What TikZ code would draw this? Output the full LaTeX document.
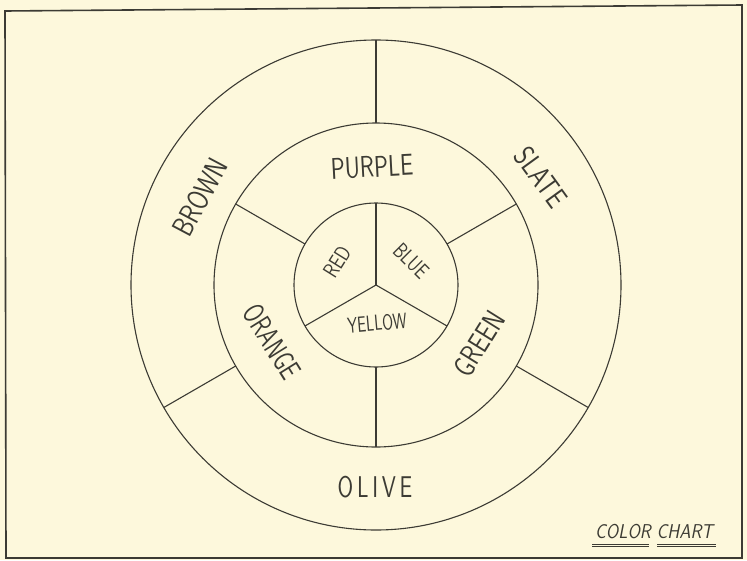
\documentclass[tikz,border=0pt]{standalone}
\usepackage{fontspec}
\definecolor{paper}{HTML}{FDF8DC}
\definecolor{ink}{HTML}{3C3B34}
\tikzset{
  ring/.style={circle, draw=ink, line width=1.1pt, minimum size=#1, inner sep=0pt, outer sep=0pt},
  spoke/.style={draw=ink, line width=1.1pt},
  biglabel/.style={text=ink, inner sep=0pt, font=\sffamily\fontsize{30}{32}\selectfont},
  smalllabel/.style={text=ink, inner sep=0pt, font=\sffamily\fontsize{22}{24}\selectfont},
}
\begin{document}
\begin{tikzpicture}[x=1pt,y=-1pt]
\useasboundingbox (0,0) rectangle (747,560);
\fill[paper] (0,0) rectangle (747,560);
% frame
\draw[ink, line width=1.6pt] (5,11) -- (742,5) -- (742,558) -- (6,558) -- cycle;

\coordinate (c) at (376,285);
\node[ring=490pt] (outer) at (c) {};
\node[ring=324pt] (middle) at (c) {};
\node[ring=164pt] (inner) at (c) {};

% inner spokes
\path[spoke] (c) -- (inner.90);
\path[spoke] (c) -- (inner.210);
\path[spoke] (c) -- (inner.330);
% middle spokes
\path[spoke] (inner.150) -- (middle.150);
\path[spoke] (inner.30) -- (middle.30);
\path[spoke] (inner.270) -- (middle.270);
% outer spokes
\path[spoke] (middle.90) -- (outer.90);
\path[spoke] (middle.210) -- (outer.210);
\path[spoke] (middle.330) -- (outer.330);

% outer ring labels
\node[biglabel, rotate=62] (brown) at (200,197) {\scalebox{0.8}[1]{BROWN}};
\node[biglabel, rotate=-54] (slate) at (541,177) {\scalebox{0.8}[1]{SLATE}};
\node[biglabel] (olive) at (375,487) {\scalebox{0.75}[1]{O\,L\,I\,V\,E}};
% middle ring labels
\node[biglabel, rotate=3] (purple) at (372,167) {\scalebox{0.78}[1]{PURPLE}};
\node[biglabel, rotate=-58] (orange) at (272,342) {\scalebox{0.72}[1]{ORANGE}};
\node[biglabel, rotate=58] (green) at (479,344) {\scalebox{0.78}[1]{GREEN}};
% inner labels
\node[smalllabel, rotate=58] (red) at (337,262) {\scalebox{0.8}[1]{RED}};
\node[smalllabel, rotate=-45] (blue) at (411,261) {\scalebox{0.78}[1]{BLUE}};
\node[smalllabel, rotate=5] (yellow) at (377,323) {\scalebox{0.72}[1]{YELLOW}};

% title
\node[text=ink, inner sep=0pt, font=\sffamily\slshape\fontsize{20}{22}\selectfont] (title) at (654,532) {\scalebox{0.9}[1]{COLOR CHART}};
\draw[ink, line width=0.6pt] (592,544) -- (649,544) (592,546.5) -- (649,546.5);
\draw[ink, line width=0.6pt] (657,544) -- (716,544) (657,546.5) -- (716,546.5);
\end{tikzpicture}
\end{document}
